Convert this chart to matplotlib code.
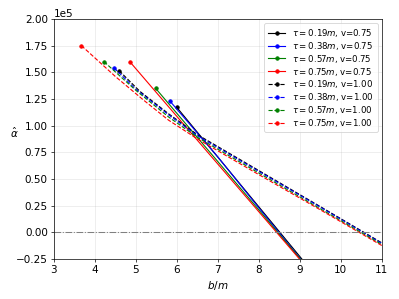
import numpy as np
import matplotlib
matplotlib.use('Agg')
import matplotlib.pyplot as plt

# tau values (in m) and colours
tau_labels = ['0.19', '0.38', '0.57', '0.75']
colors = ['black', 'blue', 'green', 'red']

# v = 0.75 (solid) : b/m and alpha_hat (x1e5)
b_solid = [
    [6.00, 7.0, 8.0, 9.30],
    [5.83, 7.0, 8.0, 9.30],
    [5.48, 7.0, 8.0, 9.30],
    [4.85, 6.0, 7.0, 9.30],
]
a_solid = [
    [1.17, 0.704, 0.238, -0.368],
    [1.23, 0.706, 0.228, -0.383],
    [1.35, 0.662, 0.209, -0.384],
    [1.60, 1.086, 0.639, -0.389],
]

# v = 1.00 (dashed)
b_dashed = [
    [4.59, 5.1, 5.8, 6.5, 8.0, 9.5, 11.0],
    [4.47, 5.0, 5.8, 6.5, 8.0, 9.5, 11.0],
    [4.22, 5.0, 5.8, 6.5, 8.0, 9.5, 11.0],
    [3.67, 4.5, 5.2, 5.8, 6.5, 8.0, 9.5, 11.0],
]
a_dashed = [
    [1.515, 1.320, 1.110, 0.915, 0.578, 0.240, -0.100],
    [1.540, 1.340, 1.100, 0.905, 0.570, 0.235, -0.105],
    [1.600, 1.330, 1.080, 0.890, 0.555, 0.220, -0.115],
    [1.750, 1.460, 1.235, 1.050, 0.875, 0.540, 0.210, -0.125],
]

fig, ax = plt.subplots(figsize=(6.4, 4.8), dpi=399/6.4)

for i in range(4):
    ax.plot(b_solid[i], np.array(a_solid[i])*1e5, '-', color=colors[i], lw=1.3,
            marker='o', markersize=4, markevery=[0],
            label=rf'$\tau = {tau_labels[i]}m$, v=0.75')
for i in range(4):
    ax.plot(b_dashed[i], np.array(a_dashed[i])*1e5, '--', color=colors[i], lw=1.3,
            marker='o', markersize=4, markevery=[0],
            label=rf'$\tau = {tau_labels[i]}m$, v=1.00')

ax.axhline(0, color='gray', linestyle='-.', lw=1.2)

ax.set_xlim(3, 11)
ax.set_ylim(-0.25e5, 2.0e5)
ax.ticklabel_format(axis='y', style='sci', scilimits=(0, 0))
ax.tick_params(labelsize=12)
ax.yaxis.get_offset_text().set_fontsize(12)
ax.set_xlabel(r'$b/m$', fontsize=12)
ax.set_ylabel(r'$\hat{\alpha}$', fontsize=12, rotation=0, ha='center', va='center')
ax.yaxis.set_label_coords(-0.122, 0.525)
ax.grid(True, alpha=0.3)
ax.legend(loc='upper right', fontsize=10, labelspacing=0.1)

plt.subplots_adjust(left=0.135, right=0.957, bottom=0.134, top=0.936)
plt.savefig('out.png')
